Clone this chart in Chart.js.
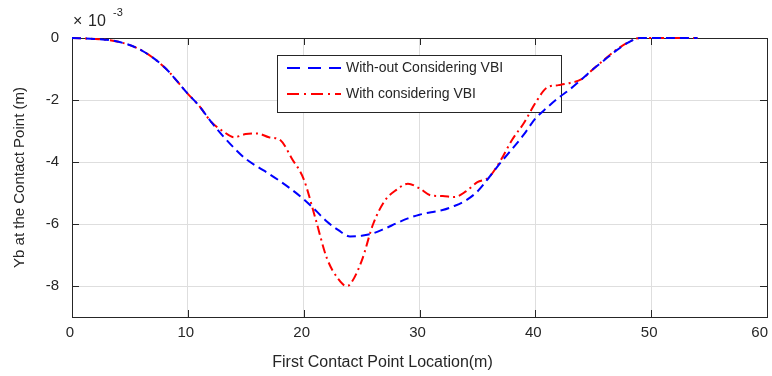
<!DOCTYPE html>
<html>
<head>
<meta charset="utf-8">
<script src="https://cdn.jsdelivr.net/npm/chart.js@4.4.0/dist/chart.umd.min.js"></script>
<style>
  html, body { margin: 0; padding: 0; background: #fff; }
  #wrap { width: 772px; height: 376px; }
</style>
</head>
<body>
<div id="wrap"><canvas id="deflChart"></canvas></div>
<script>
// values in units of 1e-3 m
let xTicks = [0, 10, 20, 30, 40, 50, 60];
let yTicks = [-8, -6, -4, -2, 0];

let xNoVbi = [0, 2, 4, 6, 8, 10, 11, 12, 13, 14, 15, 16, 17, 18, 19, 20, 21, 22, 23, 24, 25, 26, 27, 28, 29,
  30, 31, 32, 33, 34, 35, 36, 37, 38, 39, 40, 41, 42, 43, 44, 45, 46, 47, 48, 49, 54];
let yNoVbi = [0, -0.03, -0.12, -0.4, -0.95, -1.8, -2.2, -2.7, -3.15, -3.55, -3.9, -4.15, -4.38, -4.63, -4.9,
  -5.2, -5.55, -5.92, -6.2, -6.4, -6.38, -6.3, -6.15, -5.98, -5.82, -5.7, -5.62, -5.55, -5.42, -5.24, -4.95,
  -4.5, -4.02, -3.58, -3.12, -2.6, -2.25, -1.93, -1.65, -1.33, -1.0, -0.7, -0.4, -0.15, 0, 0];

let xVbi = [0, 2, 4, 6, 8, 10, 11, 12, 13, 14, 15, 16, 17, 18, 19, 20, 21, 22, 23, 23.7, 24, 25, 26, 27, 28, 29,
  30, 31, 32, 33, 34, 35, 36, 37, 38, 39, 40, 41, 42, 43, 44, 45, 46, 47, 48, 49, 54];
let yVbi = [0, -0.03, -0.12, -0.4, -0.95, -1.8, -2.2, -2.7, -3.0, -3.2, -3.1, -3.08, -3.2, -3.3, -3.9,
  -4.55, -5.8, -7.1, -7.78, -8.0, -7.95, -7.2, -6.0, -5.25, -4.9, -4.7, -4.85, -5.08, -5.1, -5.13, -4.95,
  -4.65, -4.49, -3.95, -3.28, -2.75, -2.1, -1.6, -1.52, -1.45, -1.33, -1.0, -0.68, -0.38, -0.14, 0, 0];

let xTitle = 'First Contact Point Location(m)';
let txt = '#262626';
let fontFam = '"Liberation Sans", Arial, Helvetica, sans-serif';

function pts(xs, ys) {
  return xs.map((x, i) => ({ x: x, y: ys[i] }));
}

// box, inward ticks, x labels, exponent label and legend, all under the lines
let frame = {
  id: 'frame',
  beforeDatasetsDraw(chart) {
    let c = chart.ctx;
    let a = chart.chartArea;
    let sx = chart.scales.x, sy = chart.scales.y;
    c.save();
    c.strokeStyle = txt;
    c.lineWidth = 1;
    c.beginPath();
    xTicks.forEach(v => {
      let px = Math.round(sx.getPixelForValue(v)) + 0.5;
      c.moveTo(px, a.bottom); c.lineTo(px, a.bottom - 7);
      c.moveTo(px, a.top); c.lineTo(px, a.top + 7);
    });
    yTicks.forEach(v => {
      let py = Math.round(sy.getPixelForValue(v)) + 0.5;
      c.moveTo(a.left, py); c.lineTo(a.left + 7, py);
      c.moveTo(a.right, py); c.lineTo(a.right - 7, py);
    });
    c.stroke();
    c.strokeRect(Math.round(a.left) + 0.5, Math.round(a.top) + 0.5,
      Math.round(a.right - a.left), Math.round(a.bottom - a.top));

    // x tick labels, last one kept inside the canvas
    c.fillStyle = txt;
    c.font = '15px ' + fontFam;
    c.textAlign = 'center';
    c.textBaseline = 'middle';
    xTicks.forEach(v => {
      let s = String(v);
      let w = c.measureText(s).width;
      let px = Math.min(sx.getPixelForValue(v), chart.width - w / 2 - 2);
      c.fillText(s, px - 2, a.bottom + 16);
    });

    // x axis title
    c.font = '16px ' + fontFam;
    c.fillText(xTitle, (a.left + a.right) / 2 - 37, 363);

    c.textAlign = 'left';
    c.textBaseline = 'alphabetic';
    c.fillText('\u00d7', a.left + 1, 26);
    c.fillText('10', a.left + 16, 26);
    c.font = '11px ' + fontFam;
    c.fillText('-3', a.left + 41, 16);

    // legend box
    let x0 = 277, y0 = 55, w = 284, h = 57;
    c.fillStyle = '#fff';
    c.fillRect(x0, y0, w, h);
    c.strokeStyle = txt;
    c.lineWidth = 1;
    c.strokeRect(x0 + 0.5, y0 + 0.5, w, h);
    chart.data.datasets.forEach((ds, i) => {
      let yy = y0 + 13 + i * 26;
      c.strokeStyle = ds.borderColor;
      c.lineWidth = 2;
      c.setLineDash(ds.legendDash);
      c.beginPath();
      c.moveTo(x0 + 10, yy); c.lineTo(x0 + 64, yy);
      c.stroke();
      c.setLineDash([]);
      c.fillStyle = txt;
      c.font = '14px ' + fontFam;
      c.textBaseline = 'middle';
      c.fillText(ds.label, x0 + 69, yy);
    });
    c.restore();
  }
};

let ctx = document.getElementById('deflChart').getContext('2d');
let chart = new Chart(ctx, {
  type: 'line',
  data: {
    datasets: [{
      label: 'With-out Considering VBI',
      data: pts(xNoVbi, yNoVbi),
      borderColor: '#0000ff',
      borderWidth: 2,
      borderDash: [9, 5],
      legendDash: [13, 8],
      pointRadius: 0,
      cubicInterpolationMode: 'monotone',
      clip: 4,
      fill: false
    }, {
      label: 'With considering VBI',
      data: pts(xVbi, yVbi),
      borderColor: '#ff0000',
      borderWidth: 2,
      borderDash: [9, 4, 2, 4],
      legendDash: [12, 5, 2, 5],
      pointRadius: 0,
      cubicInterpolationMode: 'monotone',
      clip: 4,
      fill: false
    }]
  },
  options: {
    responsive: true,
    maintainAspectRatio: false,
    animation: false,
    layout: { padding: { left: 0, right: 5, top: 38, bottom: 0 } },
    plugins: {
      legend: { display: false },
      tooltip: { enabled: false }
    },
    scales: {
      x: {
        type: 'linear',
        min: 0,
        max: 60,
        afterBuildTicks: s => { s.ticks = xTicks.map(v => ({ value: v })); },
        afterFit: s => { s.height = 59; s.paddingLeft = 0; s.paddingRight = 0; },
        grid: { color: '#dedede', drawTicks: false },
        border: { color: txt },
        ticks: { display: false },
        title: { display: false }
      },
      y: {
        min: -9,
        max: 0,
        afterBuildTicks: s => { s.ticks = yTicks.map(v => ({ value: v })); },
        afterFit: s => { s.width = 72; s.paddingTop = 0; s.paddingBottom = 0; },
        grid: { color: '#dedede', drawTicks: false },
        border: { color: txt },
        ticks: { color: txt, padding: 13, font: { size: 15, family: fontFam } },
        title: {
          display: true,
          text: 'Yb at the Contact Point (m)',
          color: txt,
          font: { size: 15, family: fontFam },
          padding: { top: 11, bottom: 0 }
        }
      }
    }
  },
  plugins: [frame]
});
</script>
</body>
</html>
